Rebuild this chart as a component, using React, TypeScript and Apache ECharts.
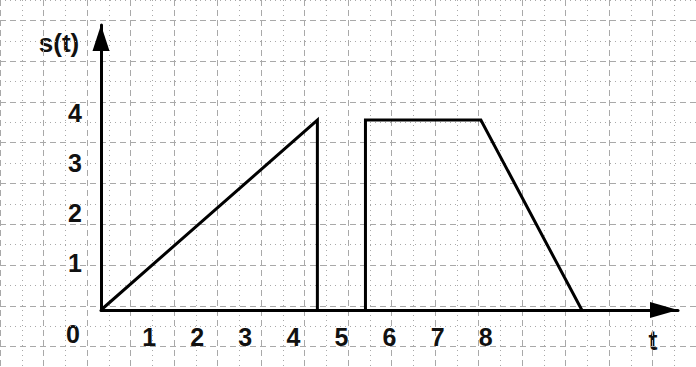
import React, { useEffect, useRef } from "react";
import * as echarts from "echarts";

// s(t): a linear ramp that drops back to zero, then a flat-topped pulse
const T_RAMP = [0, 4.5, 4.5];
const S_RAMP = [0, 4, 0];
const T_PULSE = [5.5, 5.5, 7.9, 10];
const S_PULSE = [0, 4, 4, 0];

const X_TICKS = [1, 2, 3, 4, 5, 6, 7, 8];
const Y_TICKS = [1, 2, 3, 4];

const FONT = "'Liberation Sans', Arial, sans-serif";
const GRID_COLOR = "#a9a9a9";

const pairs = (xs: number[], ys: number[]) => xs.map((x, i) => [x, ys[i]]);

export default function App() {
  const ref = useRef<HTMLDivElement>(null);

  useEffect(() => {
    if (!ref.current) return;
    const chart = echarts.init(ref.current, null, { renderer: "svg" });

    const labelStyle = {
      fontFamily: FONT,
      fontSize: 25,
      fontWeight: "bold" as const,
      color: "#111",
    };

    chart.setOption({
      animation: false,
      backgroundColor: "#fff",
      grid: [
        // background graph paper, running past every edge
        { left: -43.24, right: -30.04, top: -24, bottom: -41 },
        // plotting area bounded by the two axes
        { left: 101, right: 18, top: 25, bottom: 57 },
        // scale used only to place the s(t) tick labels
        { left: 101, right: 18, top: 13.4, bottom: 54.5 },
      ],
      xAxis: [
        {
          type: "value",
          gridIndex: 0,
          min: -3,
          max: 13,
          interval: 1,
          axisLine: { show: false },
          axisTick: { show: false },
          axisLabel: { show: false },
          splitLine: {
            show: true,
            lineStyle: { color: GRID_COLOR, width: 1, type: [6, 4] },
          },
          minorTick: { show: false, splitNumber: 2 },
          minorSplitLine: {
            show: true,
            lineStyle: { color: GRID_COLOR, width: 1, type: [1, 4] },
          },
        },
        {
          type: "value",
          gridIndex: 1,
          min: 0,
          max: 12,
          interval: 1,
          axisLine: {
            show: true,
            onZero: false,
            symbol: ["none", "triangle"],
            symbolSize: [16, 28],
            symbolOffset: [0, -14],
            lineStyle: { color: "#000", width: 3 },
          },
          axisTick: { show: false },
          splitLine: { show: false },
          axisLabel: {
            ...labelStyle,
            margin: 14,
            formatter: (v: number) => (X_TICKS.includes(v) ? String(v) : ""),
          },
        },
        {
          type: "value",
          gridIndex: 2,
          min: 0,
          max: 12,
          show: false,
        },
      ],
      yAxis: [
        {
          type: "value",
          gridIndex: 0,
          min: -2,
          max: 7,
          interval: 1,
          axisLine: { show: false },
          axisTick: { show: false },
          axisLabel: { show: false },
          splitLine: {
            show: true,
            lineStyle: { color: GRID_COLOR, width: 1, type: [1, 4] },
          },
          minorTick: { show: false, splitNumber: 2 },
          minorSplitLine: {
            show: true,
            lineStyle: { color: GRID_COLOR, width: 1, type: [6, 4] },
          },
        },
        {
          type: "value",
          gridIndex: 1,
          min: 0,
          max: 6,
          interval: 1,
          axisLine: {
            show: true,
            onZero: false,
            symbol: ["none", "triangle"],
            symbolSize: [17, 26],
            symbolOffset: [0, -13],
            lineStyle: { color: "#000", width: 3 },
          },
          axisTick: { show: false },
          splitLine: { show: false },
          axisLabel: { show: false },
        },
        {
          type: "value",
          gridIndex: 2,
          min: 0,
          max: 6,
          interval: 1,
          axisLine: { show: false },
          axisTick: { show: false },
          splitLine: { show: false },
          axisLabel: {
            ...labelStyle,
            margin: 19,
            formatter: (v: number) => (Y_TICKS.includes(v) ? String(v) : ""),
          },
        },
      ],
      series: [
        {
          type: "line",
          xAxisIndex: 1,
          yAxisIndex: 1,
          data: pairs(T_RAMP, S_RAMP),
          symbol: "none",
          clip: false,
          lineStyle: { color: "#000", width: 3, join: "miter" },
        },
        {
          type: "line",
          xAxisIndex: 1,
          yAxisIndex: 1,
          data: pairs(T_PULSE, S_PULSE),
          symbol: "none",
          clip: false,
          lineStyle: { color: "#000", width: 3, join: "miter" },
        },
      ],
      graphic: [
        {
          type: "text",
          x: 59,
          y: 43,
          style: {
            text: "s(t)",
            font: `bold 26px ${FONT}`,
            fill: "#111",
            align: "center",
            verticalAlign: "middle",
          },
        },
        {
          type: "text",
          x: 653,
          y: 341,
          style: {
            text: "t",
            font: `bold 27px ${FONT}`,
            fill: "#111",
            align: "center",
            verticalAlign: "middle",
          },
        },
        {
          type: "text",
          x: 73,
          y: 334,
          style: {
            text: "0",
            font: `bold 25px ${FONT}`,
            fill: "#111",
            align: "center",
            verticalAlign: "middle",
          },
        },
      ],
    });

    return () => chart.dispose();
  }, []);

  return (
    <div
      ref={ref}
      style={{
        position: "absolute",
        left: 0,
        top: 0,
        width: 696,
        height: 367,
        background: "#fff",
      }}
    />
  );
}
